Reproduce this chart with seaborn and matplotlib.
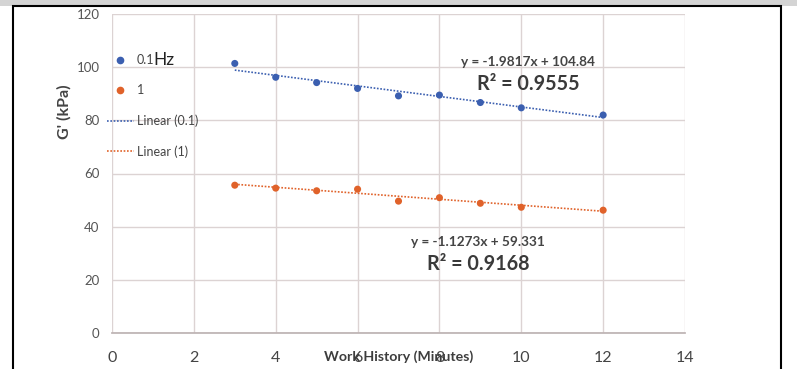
import matplotlib
matplotlib.use("Agg")
import matplotlib.pyplot as plt
from matplotlib.lines import Line2D
from matplotlib.patches import Rectangle
import numpy as np
import pandas as pd
import seaborn as sns

# --- data ---
minutes = [3, 4, 5, 6, 7, 8, 9, 10, 12]
g_01hz = [101.4, 96.2, 94.2, 92.0, 89.2, 89.5, 86.7, 84.7, 82.0]
g_1hz = [55.6, 54.5, 53.5, 54.1, 49.6, 50.9, 48.8, 47.3, 46.2]

# trendline coefficients as printed on the chart
slopes = [-1.9817, -1.1273]
intercepts = [104.84, 59.331]
r2_values = [0.9555, 0.9168]
series_names = ["0.1", "1"]

x_ticks = [0, 2, 4, 6, 8, 10, 12, 14]
y_ticks = [0, 20, 40, 60, 80, 100, 120]

BLUE = "#3b5fb0"
ORANGE = "#e0622a"
colors = [BLUE, ORANGE]

sns.set_theme(style="white")
plt.rcParams["font.family"] = ["Lato", "DejaVu Sans"]

df = pd.DataFrame({
    "minutes": minutes * 2,
    "G": g_01hz + g_1hz,
    "freq": ["0.1"] * len(minutes) + ["1"] * len(minutes),
})

fig = plt.figure(figsize=(7.97, 3.69), dpi=100)
ax = fig.add_axes([112 / 797, 36 / 369, 573 / 797, 319 / 369])

# trendlines over the measured range
xs = np.array([min(minutes), max(minutes)])
for m, b, c in zip(slopes, intercepts, colors):
    sns.lineplot(x=xs, y=m * xs + b, ax=ax, color=c, lw=1.2,
                 linestyle=(0, (1, 1)), legend=False, zorder=2)

sns.scatterplot(data=df, x="minutes", y="G", hue="freq",
                palette=dict(zip(series_names, colors)), s=26,
                edgecolor="none", ax=ax, legend=False, zorder=3)

ax.set_xlim(0, 14)
ax.set_ylim(0, 120)
ax.set_xticks(x_ticks)
ax.set_yticks(y_ticks)
ax.grid(True, color="#dcd3d3", lw=1)
for s in ["top", "right", "left"]:
    ax.spines[s].set_visible(False)
ax.spines["bottom"].set_color("#bdb3b3")
ax.tick_params(axis="x", labelsize=11.5, colors="#444444", pad=13, length=0)
ax.tick_params(axis="y", labelsize=9.5, colors="#555555", pad=9, length=0)
ax.set_xlabel("")
ax.set_ylabel("")

# axis titles (the x title sits on the tick row, as in the original)
fig.text(399 / 797, 1 - 357 / 369, "Work History (Minutes)", fontsize=10.2,
         fontweight="bold", color="#3d3d3d", ha="center", va="center", zorder=0)
fig.text(64 / 797, 1 - 112 / 369, "G' (kPa)", fontsize=11.5, fontweight="bold",
         color="#444444", rotation=90, ha="center", va="center")

# trendline equations
eq_pos = [((10.16, 101.9), (10.16, 93.6)), ((8.94, 34.2), (8.94, 25.9))]
for m, b, r2, (p_eq, p_r2) in zip(slopes, intercepts, r2_values, eq_pos):
    ax.text(*p_eq, f"y = {m:.4f}x + {b:g}", fontsize=9.8, fontweight="bold",
            color="#444444", ha="center", va="center")
    ax.text(*p_r2, f"R² = {r2:.4f}", fontsize=14.2, fontweight="bold",
            color="#3a3a3a", ha="center", va="center")

# legend
handles = [
    Line2D([], [], marker="o", ls="none", color=BLUE, markersize=4.5),
    Line2D([], [], marker="o", ls="none", color=ORANGE, markersize=4.5),
    Line2D([], [], color=BLUE, lw=1.2, ls=(0, (1, 1))),
    Line2D([], [], color=ORANGE, lw=1.2, ls=(0, (1, 1))),
]
labels = ["0.1", "1", "Linear (0.1)", "Linear (1)"]
leg = fig.legend(handles, labels, loc="upper left",
                 bbox_to_anchor=(96 / 797, 1 - 43 / 369), frameon=False,
                 fontsize=9, labelspacing=1.45, handlelength=2.1,
                 handletextpad=0.25, labelcolor="#444444")

# the "Hz" unit follows the first legend label in a larger font
fig.canvas.draw()
bb = leg.get_texts()[0].get_window_extent()
fig.text(bb.x1 / fig.bbox.width - 1 / 797, (bb.y0 + bb.y1) / 2 / fig.bbox.height,
         "Hz", fontsize=12.5, color="#222222", ha="left", va="center")

# page frame
fig.patches.append(Rectangle((0, 1 - 6 / 369), 1, 6 / 369, transform=fig.transFigure,
                             facecolor="#d4d4d4", edgecolor="none", zorder=-1))
fig.patches.append(Rectangle((13 / 797, -0.05), 768 / 797, 1.05 - 6 / 369,
                             transform=fig.transFigure, facecolor="none",
                             edgecolor="black", lw=1.5, zorder=5))

fig.savefig("out.png", dpi=100)
